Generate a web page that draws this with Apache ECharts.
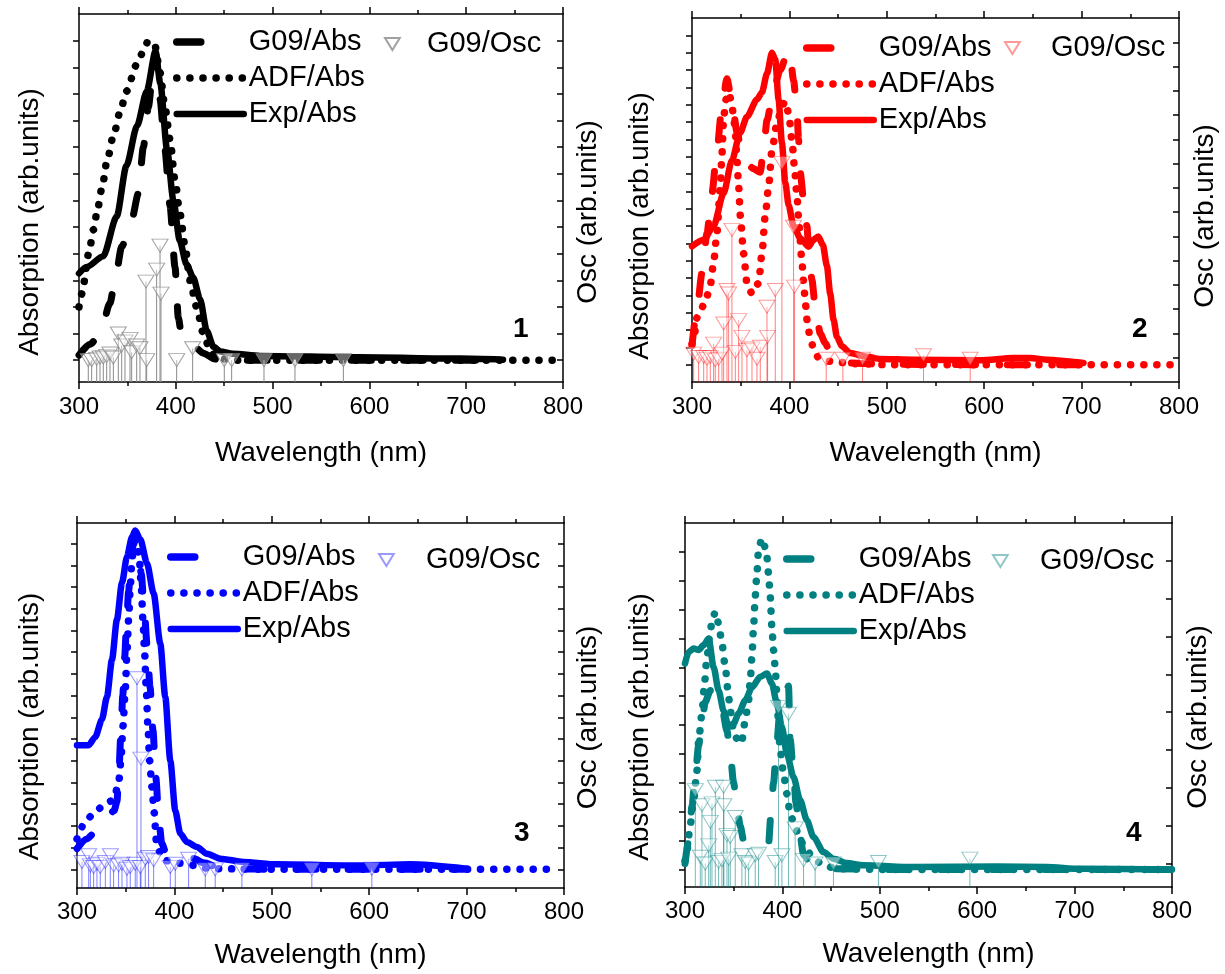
<!DOCTYPE html>
<html><head><meta charset="utf-8">
<script src="https://cdn.jsdelivr.net/npm/echarts@6/dist/echarts.min.js"></script>
<style>html,body{margin:0;padding:0;background:#fff}#c{width:1225px;height:974px}</style>
</head><body><div id="c"></div>
<script>
// ---------------- DATA ----------------
const xTickLabels = [300, 400, 500, 600, 700, 800];

// Panel 1 (black)
const p1G09 = [[300,0.19],[311.4,0.6],[321.7,0.95],[332,2.14],[337.2,3.0],[344.1,4.26],[354.4,5.26],[361.3,6.26],[366.5,8.0],[371.6,9.5],[376.8,11.0],[379.2,11.5],[383.7,9.8],[388.8,7.9],[394,5.8],[399.2,3.5],[402.6,1.6],[406.1,0.9],[411.2,0.64],[418.1,0.55],[428.4,0.26],[440.5,0.04],[452.5,0.0],[550,0.0],[650,0.0],[740,0.0]];
const p1ADF = [[300,2.0],[303,2.5],[310,4.0],[315,4.9],[318.8,5.6],[323.9,6.5],[329,7.5],[336,8.5],[343,9.4],[349,10.1],[359.6,11.1],[366.5,11.6],[371.6,12.0],[378.5,11.8],[383.7,10.8],[388.8,9.5],[394,8.3],[399,6.8],[404.3,5.5],[409.5,4.3],[414.6,3.0],[421.5,2.0],[428.4,1.0],[435.3,0.39],[442,0.08],[460,0],[500,0],[600,0],[700,0],[800,0]];
const p1Exp = [[300,3.26],[308,3.5],[325,3.9],[339,5.4],[349,7.3],[360,8.8],[370,10.1],[379,11.6],[384,10.4],[391,7.9],[397.5,6.0],[404,4.5],[411,3.6],[418,3.1],[425,2.3],[432,1.1],[439,0.5],[446,0.33],[459,0.24],[487,0.16],[590,0.11],[694,0.06],[738,0.02]];
const p1Osc = [[309.6,0.0],[313.1,0.0],[318.3,0.05],[321.7,0.1],[325.1,0.1],[328.6,0.15],[332,0.25],[335.5,0.1],[340.6,1.0],[344.1,0.55],[347.5,0.7],[352.7,0.8],[354.4,0.3],[359.6,0.55],[363,0.45],[369.2,2.95],[369.9,0.0],[380.2,3.4],[383.7,4.3],[384.7,2.5],[400.9,0.0],[417.4,0.45],[450.1,0.0],[457.7,0.0],[491.1,0.0],[523.1,0.0],[573.1,0.0]];
const p1LeftTicks = [0,1,2,3,4,5,6,7,8,9,10,11,12];
const p1RightTicks = [0,1,2,3,4,5,6,7,8,9,10,11,12];

// Panel 2 (red)
const p2G09 = [[300,1.1],[305.1,3.2],[310.3,5.3],[315.4,7.6],[320.5,9.9],[325.6,12.4],[330.8,14.9],[335.9,16.5],[339.3,15.7],[342.7,14.5],[346.2,13.4],[351.3,12.2],[356.4,11.6],[363.3,11.3],[370.1,11.1],[374.2,12.9],[377,14.1],[383.8,15.9],[390.6,17.0],[397.5,17.9],[400.2,18.1],[404.3,16.4],[407.7,14.7],[409.4,13.0],[411.1,11.1],[414.6,9.5],[418,8.0],[419.7,6.8],[423.1,4.9],[426.5,3.4],[431.7,1.8],[436.8,1.25],[441.9,0.67],[448.8,0.29],[459,0.1],[500,0.02],[600,0],[700,0]];
const p2ADF = [[300,1.2],[301.7,1.44],[305.1,2.7],[313.7,3.6],[318.8,4.6],[322.2,5.9],[325.6,7.6],[329.1,10.3],[330.8,12.2],[332.5,14.3],[335,15.3],[337.6,15.7],[340.5,15.2],[342.7,14.3],[344.5,13.4],[346.2,11.8],[347.9,10.3],[349.6,8.6],[353,6.4],[356.4,4.7],[361.6,4.1],[368.4,4.7],[371.8,6.4],[375.2,8.6],[378.7,10.3],[382.1,12.4],[387.2,13.9],[392.3,14.9],[395.8,15.2],[399.2,14.5],[402.6,13.0],[405,11.5],[407.7,9.8],[410,8.0],[412.5,6.2],[414.6,4.8],[416.3,3.6],[418.5,2.4],[421.4,1.5],[424.8,0.96],[430,0.38],[442,0.19],[466,0.06],[500,0],[600,0],[700,0],[800,0]];
const p2Exp = [[300,6.83],[312,7.2],[322.2,8.0],[332.5,9.9],[341,11.8],[349.6,13.4],[356.4,14.3],[366.7,15.3],[371.8,15.7],[377,16.8],[382.1,18.0],[385.5,17.6],[388.9,15.3],[392.3,12.8],[395.8,10.5],[399.2,9.2],[404.3,8.0],[411.1,7.3],[419.7,6.8],[424.8,7.2],[429.6,7.4],[434.4,6.9],[438.5,5.7],[441.9,4.1],[445.3,2.6],[448.8,1.6],[453.9,1.06],[462.4,0.67],[479.5,0.45],[493.2,0.33],[527.4,0.29],[595.8,0.25],[630,0.38],[647.1,0.38],[664.2,0.29],[698.4,0.13],[702,0.1]];
const p2Osc = [[301.7,1.17],[306.8,1.03],[312,1.03],[315.4,0.96],[318.8,1.03],[322.2,1.58],[323.9,0.9],[327.4,0.96],[330.8,1.17],[332.5,2.41],[335.9,3.79],[337.6,3.65],[341,6.27],[344.5,1.24],[347.9,2.55],[351.3,1.86],[356.4,1.31],[361.6,1.38],[366.7,0.96],[370.1,1.45],[377,3.1],[377.6,1.86],[385.5,3.79],[392.3,9.02],[404.3,6.4],[405.3,3.93],[437.8,0.96],[454.9,0.96],[475.1,0.96],[537.7,1.1],[585.6,0.96]];
const p2LeftTicks = [0,1,2,3,4,5,6,7,8,9,10,11,12,13,14,15,16,17,18,19];
const p2RightTicks = [1,2,3,4,5,6,7,8,9,10,11,12,13,14];

// Panel 3 (blue)
const p3G09 = [[300,0.95],[310,1.4],[319,1.72],[330,2.3],[338,2.7],[341,3.1],[343,4.5],[345,6.2],[347,8.0],[349,9.8],[351,11.5],[353,12.8],[355,13.9],[357,14.8],[359,15.3],[361,15.2],[363,14.7],[366,13.6],[369,12.0],[372,10.3],[375,8.4],[378,6.4],[381,4.2],[384,2.3],[387,1.2],[391,0.8],[400,0.75],[410,0.7],[420,0.5],[430,0.3],[445,0.1],[470,0.02],[500,0],[600,0],[700,0]];
const p3ADF = [[300,1.4],[301.7,1.57],[306.8,2.1],[317.1,2.57],[327.4,2.95],[337.6,3.2],[342.7,3.95],[345.1,5.0],[347.2,6.6],[349.6,8.3],[351.3,10.0],[353,11.5],[354.7,13.0],[356.4,14.3],[358.8,15.1],[361.6,15.0],[364,14.3],[366,13.0],[367.7,11.5],[369.4,10.0],[371.1,8.3],[372.8,6.6],[374.6,5.0],[376.9,3.8],[379.3,2.6],[381.4,1.34],[383.8,0.88],[388.9,0.42],[402.6,0.29],[419.7,0.18],[436.8,0.03],[500,0],[600,0],[700,0],[792,0]];
const p3Exp = [[300,5.72],[312,5.72],[318.8,6.1],[325.6,6.9],[330.8,7.95],[335.9,9.65],[341,11.5],[346.2,13.2],[351.3,14.4],[356.4,15.3],[359.8,15.6],[365,15.2],[371.8,14.1],[378.7,12.7],[385.5,10.4],[390.6,7.95],[395.8,5.0],[400.9,2.7],[406,1.65],[412.9,1.26],[423.1,1.03],[433.4,0.72],[447.1,0.49],[471,0.34],[505.2,0.23],[590.7,0.18],[642,0.23],[700,0.03]];
const p3Osc = [[305.1,0.34],[312,0.65],[313.7,0.18],[317.1,0.11],[320.5,0.26],[323.9,0.11],[329.1,0.34],[334.2,0.65],[337.6,0.18],[342.7,0.18],[346.2,0.26],[351.3,0.03],[354.7,0.11],[359.8,0.26],[361.6,8.8],[365,0.11],[365.7,5.1],[370.1,0.49],[373.5,0.57],[378.7,0.42],[395.8,0.11],[400.9,0.26],[414.6,0.49],[431.7,0],[441.9,0],[469.3,0],[541.1,0],[602.7,0.03]];
const p3LeftTicks = [0,1,2,3,4,5,6,7,8,9,10,11,12,13,14,15];
const p3RightTicks = [0,1,2,3,4,5,6,7,8,9,10,11,12,13,14,15];

// Panel 4 (teal)
const p4G09 = [[300,0.2],[303.8,1.0],[307.2,2.2],[310.6,3.3],[314,4.3],[317.4,5.1],[320.8,5.8],[326,6.2],[332.8,6.15],[337.9,5.6],[343.1,4.8],[346.5,4.0],[349.9,3.0],[353.3,2.2],[356.7,1.5],[360.2,1.0],[363.6,0.89],[385.8,0.89],[388.2,1.9],[390.9,3.0],[394.3,4.4],[397.7,5.6],[402.9,6.1],[406.3,6.35],[408,4.5],[411.4,3.3],[414,2.3],[418,1.2],[421.7,0.5],[428.5,0.25],[438.8,0.1],[452.4,0.02],[500,0],[600,0],[700,0],[800,0]];
const p4ADF = [[300,0.3],[302,0.66],[305.5,1.58],[308.9,2.4],[312.3,3.43],[314,4.47],[317.4,5.4],[319.8,6.32],[321.9,7.13],[325.3,8.06],[327.7,8.58],[331.1,8.92],[334.5,8.52],[337.9,7.83],[341.4,7.0],[344.1,6.2],[346.5,5.5],[349.9,4.82],[355,4.36],[358.4,4.47],[361.9,5.17],[365.3,5.86],[367,6.55],[368.7,7.36],[370.4,8.4],[372.1,9.45],[373.8,10.25],[375.5,11.06],[378.9,11.47],[383.4,11.06],[385.8,10.25],[387.5,9.45],[389.2,8.4],[390.9,7.6],[392.6,7.0],[394.3,6.1],[396,5.05],[397.7,4.13],[401.2,3.32],[404.6,2.62],[408,1.93],[413.1,1.47],[418.2,1.0],[425.1,0.66],[431.9,0.37],[442.2,0.14],[455.8,0.02],[500,0],[600,0],[700,0],[800,0]];
const p4Exp = [[300,7.13],[303.8,7.54],[308.9,7.65],[314,7.6],[319.1,7.77],[324.3,8.0],[329.4,7.0],[334.5,6.2],[339.6,5.5],[344.8,4.94],[349.9,5.05],[355,5.4],[361.9,5.86],[368.7,6.3],[377.2,6.67],[384.1,6.79],[389.2,6.44],[394.3,5.75],[399.5,4.94],[404.6,4.0],[411.4,3.2],[418.2,2.4],[425.1,1.7],[431.9,1.12],[442.2,0.6],[452.4,0.37],[466.1,0.22],[483.2,0.14],[534.4,0.08],[619.9,0.1],[671.2,0.08],[705.3,0.02],[800,0]];
const p4Osc = [[310.6,1.94],[315.7,0.18],[317.4,1.54],[320.8,0],[324.3,0.48],[326,1.1],[327.7,1.59],[331.1,2.03],[334.5,0.04],[337.9,0.09],[339.6,2.03],[339.9,1.54],[343.1,0.75],[344.8,0.13],[346.5,0.7],[351.6,1.23],[358.4,0.22],[361.9,0.04],[365.3,0],[372.1,0.22],[375.5,0.26],[392.6,0.04],[396,4.14],[399.5,0.22],[406.3,3.96],[413.1,0.93],[421.7,0.09],[433.6,0],[452.4,0],[498.6,0.04],[592.5,0.13]];
const p4LeftTicks = [0,1,2,3,4,5,6,7,8,9,10,11];
const p4RightTicks = [0,1,2,3,4,5,6,7,8];

const seriesNames = ['G09/Abs', 'ADF/Abs', 'Exp/Abs', 'G09/Osc'];
const panelLabels = ['1', '2', '3', '4'];

// ---------------- LAYOUT / STYLE ----------------
const FONT = '"Liberation Sans", Arial, Helvetica, sans-serif';
const panels = [
  { color:'#000000', osc:'#8a8a8a', g09:p1G09, adf:p1ADF, exp:p1Exp, oscData:p1Osc,
    grid:{left:79, top:14, width:484, height:368}, yL:[-0.82,13], yR:[-0.82,13], tL:p1LeftTicks, tR:p1RightTicks,
    legA:{left:173, top:27}, legB:{left:384, top:29, pad:22}, lab:{left:513, top:315},
    absGap:35, absShift:24, oscGap:11, oscShift:14, xGap:57, xMargin:13 },
  { color:'#ff0000', osc:'rgba(255,0,0,0.5)', g09:p2G09, adf:p2ADF, exp:p2Exp, oscData:p2Osc,
    grid:{left:692, top:18, width:487, height:364}, yL:[-1,20], yR:[0,15], tL:p2LeftTicks, tR:p2RightTicks,
    legA:{left:803, top:33}, legB:{left:1004, top:33, pad:26}, lab:{left:1132, top:315},
    absGap:38, absShift:26, oscGap:12, oscShift:16, xGap:57, xMargin:13 },
  { color:'#0000ff', osc:'rgba(0,0,255,0.5)', g09:p3G09, adf:p3ADF, exp:p3Exp, oscData:p3Osc,
    grid:{left:77, top:523, width:487, height:365}, yL:[-0.86,15.95], yR:[-0.86,15.95], tL:p3LeftTicks, tR:p3RightTicks,
    legA:{left:167, top:542}, legB:{left:378, top:545, pad:27}, lab:{left:514, top:819},
    absGap:33, absShift:21, oscGap:10, oscShift:12, xGap:53, xMargin:12 },
  { color:'#008080', osc:'rgba(0,128,128,0.55)', g09:p4G09, adf:p4ADF, exp:p4Exp, oscData:p4Osc,
    grid:{left:685, top:523, width:487, height:364}, yL:[-0.61,12], yR:[-0.62,9], tL:p4LeftTicks, tR:p4RightTicks,
    legA:{left:783, top:544}, legB:{left:992, top:546, pad:27}, lab:{left:1126, top:819},
    absGap:31, absShift:22, oscGap:12, oscShift:12, xGap:53, xMargin:12 }
];

const option = { animation:false, backgroundColor:'#fff', grid:[], xAxis:[], yAxis:[], series:[], legend:[], title:[] };
const AX = { color:'#000', width:1.5 };
const strip = n => n.split('#')[0];
const INV_TRI = 'path://M0,0L16,0L8,13Z';

panels.forEach((P, i) => {
  const tag = '#' + (i+1);
  option.grid.push(Object.assign({ outerBoundsMode:'none', containLabel:false }, P.grid));
  const xBase = { type:'value', gridIndex:i, min:300, max:800, interval:100,
    splitLine:{show:false}, axisLine:{show:true, onZero:false, lineStyle:AX},
    axisTick:{show:true, length:7, lineStyle:AX},
    minorTick:{show:true, splitNumber:2, length:4, lineStyle:AX} };
  option.xAxis.push(Object.assign({}, xBase, { position:'bottom',
    axisLabel:{show:true, fontSize:24, color:'#000', fontFamily:FONT, margin:P.xMargin,
      customValues: xTickLabels},
    name:'Wavelength (nm)', nameLocation:'middle', nameGap:P.xGap,
    nameTextStyle:{fontSize:28, color:'#000', fontFamily:FONT} }));
  option.xAxis.push(Object.assign({}, xBase, { position:'top', axisLabel:{show:false} }));
  option.yAxis.push({ type:'value', gridIndex:i, position:'left', min:P.yL[0], max:P.yL[1],
    splitLine:{show:false}, axisLine:{show:true, onZero:false, lineStyle:AX},
    axisTick:{show:true, inside:false, length:6, lineStyle:AX, customValues:P.tL},
    axisLabel:{show:false},
    name:'Absorption (arb.units)', nameLocation:'middle', nameRotate:90, nameGap:P.absGap,
    nameTextStyle:{fontSize:28, color:'#000', fontFamily:FONT, padding:[0, 2*P.absShift, 0, 0]} });
  option.yAxis.push({ type:'value', gridIndex:i, position:'right', min:P.yR[0], max:P.yR[1],
    splitLine:{show:false}, axisLine:{show:true, onZero:false, lineStyle:AX},
    axisTick:{show:true, inside:true, length:6, lineStyle:AX, customValues:P.tR},
    axisLabel:{show:false},
    name:'Osc (arb.units)', nameLocation:'middle', nameRotate:90, nameGap:P.oscGap,
    nameTextStyle:{fontSize:28, color:'#000', fontFamily:FONT, padding:[0, 2*P.oscShift, 0, 0]} });

  const xi = 2*i, yl = 2*i, yr = 2*i+1;
  const lineCommon = { type:'line', xAxisIndex:xi, yAxisIndex:yl, symbol:'none', showSymbol:false,
    smooth:0.25, smoothMonotone:'x', clip:true, z:2, silent:true };
  option.series.push(Object.assign({}, lineCommon, { name:seriesNames[0]+tag, data:P.g09,
    lineStyle:{color:P.color, width:7, type:[20,32], cap:'round'}, itemStyle:{color:P.color} }));
  option.series.push(Object.assign({}, lineCommon, { name:seriesNames[1]+tag, data:P.adf,
    lineStyle:{color:P.color, width:7.5, type:[0.1,13], cap:'round'}, itemStyle:{color:P.color} }));
  option.series.push(Object.assign({}, lineCommon, { name:seriesNames[2]+tag, data:P.exp,
    lineStyle:{color:P.color, width:6.5, type:'solid', cap:'round', join:'round'}, itemStyle:{color:P.color} }));
  const oscColor = P.osc;
  option.series.push({ type:'custom', name:'stems'+tag, xAxisIndex:xi, yAxisIndex:yr, data:P.oscData,
    encode:{x:0, y:1}, z:3, silent:true, clip:true,
    renderItem:(params, api) => {
      const p = api.coord([api.value(0), api.value(1)]);
      const cs = params.coordSys;
      return { type:'line', shape:{x1:p[0], y1:cs.y+cs.height, x2:p[0], y2:p[1]},
        style:{stroke:oscColor, lineWidth:1} };
    } });
  option.series.push({ type:'scatter', name:seriesNames[3]+tag, xAxisIndex:xi, yAxisIndex:yr, data:P.oscData,
    symbol:'triangle', symbolRotate:180, symbolSize:[16,13], z:4, silent:true,
    itemStyle:{color:'rgba(255,255,255,0.5)', borderColor:oscColor, borderWidth:1} });

  option.legend.push({ orient:'vertical', left:P.legA.left, top:P.legA.top, padding:0,
    itemWidth:67, itemHeight:14, itemGap:6, selectedMode:false, formatter:strip,
    lineStyle:{width:7}, itemStyle:{opacity:0},
    textStyle:{fontSize:29, color:'#000', fontFamily:FONT, lineHeight:30},
    data:[ {name:seriesNames[0]+tag, lineStyle:{type:[24,200], width:7.5}},
           {name:seriesNames[1]+tag, lineStyle:{width:7.5}},
           {name:seriesNames[2]+tag, lineStyle:{width:6.5}} ] });
  option.legend.push({ orient:'vertical', left:P.legB.left, top:P.legB.top, padding:0,
    itemWidth:15, itemHeight:12, selectedMode:false, formatter:strip,
    textStyle:{fontSize:29, color:'#000', fontFamily:FONT, lineHeight:30, padding:[0,0,0,P.legB.pad]},
    data:[ {name:seriesNames[3]+tag, icon:INV_TRI} ] });
  option.title.push({ text:panelLabels[i], left:P.lab.left, top:P.lab.top, padding:0,
    textStyle:{fontSize:28, fontWeight:'bold', color:'#000', fontFamily:FONT} });
});

const chart = echarts.init(document.getElementById('c'), null, {renderer:'canvas'});
chart.setOption(option);
</script></body></html>
